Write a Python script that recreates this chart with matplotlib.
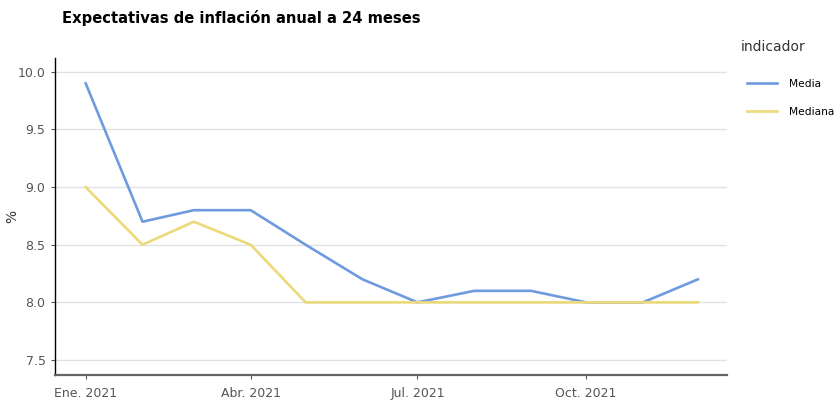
import matplotlib
matplotlib.use("Agg")
import matplotlib.pyplot as plt
import numpy as np

fechas = np.array(["2021-%02d-01" % m for m in range(1, 13)], dtype="datetime64[D]")
media = [9.9, 8.7, 8.8, 8.8, 8.5, 8.2, 8.0, 8.1, 8.1, 8.0, 8.0, 8.2]
mediana = [9.0, 8.5, 8.7, 8.5, 8.0, 8.0, 8.0, 8.0, 8.0, 8.0, 8.0, 8.0]
ticks_x = np.array(["2021-01-01", "2021-04-01", "2021-07-01", "2021-10-01"], dtype="datetime64[D]")
ticks_lbl = ["Ene. 2021", "Abr. 2021", "Jul. 2021", "Oct. 2021"]
ticks_y = [7.5, 8.0, 8.5, 9.0, 9.5, 10.0]

fig = plt.figure(figsize=(8.34, 4.03), dpi=100)
ax = fig.add_axes([0.0654, 0.0695, 0.8066, 0.7865])

ax.plot(fechas, media, color="#6e9be0", lw=1.9, label="Media")
ax.plot(fechas, mediana, color="#ecd97a", lw=1.9, label="Mediana")

ax.set_xlim(np.datetime64("2021-01-01") - np.timedelta64(17, "D"),
            np.datetime64("2021-12-01") + np.timedelta64(16, "D"))
ax.set_ylim(7.37, 10.12)
ax.set_xticks(ticks_x)
ax.set_xticklabels(ticks_lbl)
ax.set_yticks(ticks_y)
ax.set_yticklabels(["%.1f" % v for v in ticks_y])
ax.grid(axis="y", color="#e2e2e2", lw=1)
ax.set_axisbelow(True)
ax.tick_params(colors="#555555", labelsize=9, length=3, width=0.8)
ax.tick_params(axis="x", pad=6)

for s in ["top", "right"]:
    ax.spines[s].set_visible(False)
ax.spines["left"].set_color("black")
ax.spines["left"].set_linewidth(1)
ax.spines["bottom"].set_color("#666666")
ax.spines["bottom"].set_linewidth(1.6)

# "%" label placed by hand so it is not cut at the left edge
fig.text(12 / 834, 1 - 216 / 403, "%", fontsize=10, color="#333333",
         rotation=90, va="center", ha="center")

fig.text(62 / 834, 1 - 18 / 403, "Expectativas de inflación anual a 24 meses",
         fontsize=10.6, fontweight="bold", va="center", ha="left")

fig.text(741 / 834, 1 - 47 / 403, "indicador", fontsize=10, color="#333333",
         va="center", ha="left")
leg = fig.legend(loc="upper left", bbox_to_anchor=(747 / 834, 1 - 79 / 403),
                 frameon=False, fontsize=7.7, handlelength=2.8,
                 labelspacing=1.7, handletextpad=1.15,
                 borderpad=0, borderaxespad=0)

fig.savefig("out.png", dpi=100)
